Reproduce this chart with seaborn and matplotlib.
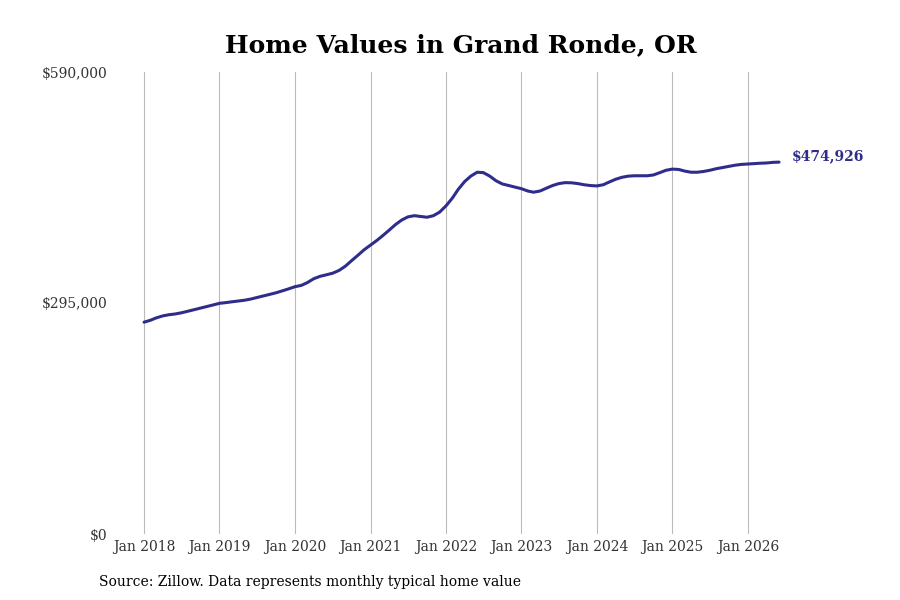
import pandas as pd
import matplotlib.pyplot as plt
import seaborn as sns

# ========== DATA ==========
months = pd.date_range("2018-01-01", "2026-06-01", freq="MS")
values = [
    # 2018
    270500, 273000, 276000, 278500, 280000, 281000, 282500, 284500, 286500, 288500, 290500, 292500,
    # 2019
    294600, 295500, 296500, 297500, 298500, 300000, 302000, 304000, 306000, 308000, 310500, 313000,
    # 2020
    315800, 317500, 321000, 326000, 329000, 331000, 333000, 336500, 342000, 349000, 356000, 363000,
    # 2021
    369000, 375000, 381000, 388000, 395000, 401000, 405000, 406500, 405500, 404500, 406500, 411000,
    # 2022
    419000, 429000, 440000, 450000, 457000, 462000, 461500, 457000, 451000, 447000, 445000, 443000,
    # 2023
    441000, 438000, 436500, 438000, 441500, 445000, 447500, 448700, 448500, 447500, 446000, 445000,
    # 2024
    444500, 446000, 449500, 453000, 455500, 457000, 457500, 457500, 457500, 458500, 461500, 464500,
    # 2025
    466000, 465500, 463500, 462000, 462000, 463000, 464500, 466500, 468000, 469500, 471000, 472000,
    # 2026
    472500, 473000, 473500, 473800, 474600, 474926,
]
ytick_vals = [0, 295000, 590000]
ytick_labels = ["$0", "$295,000", "$590,000"]
xtick_years = list(range(2018, 2027))

df = pd.DataFrame({"date": months, "value": values})

# ========== STYLE ==========
sns.set_style("white")
plt.rcParams["font.family"] = ["DejaVu Serif"]
LINE = "#2e2d8c"

fig = plt.figure(figsize=(9, 6), dpi=100)
ax = fig.add_axes([0.13, 0.11, 0.74, 0.77])

sns.lineplot(data=df, x="date", y="value", ax=ax, color=LINE, linewidth=2.2)

ax.set_ylim(0, 590000)
ax.set_yticks(ytick_vals)
ax.set_yticklabels(ytick_labels, fontsize=10, color="#333333")
ax.set_xlim(pd.Timestamp("2017-08-23"), pd.Timestamp("2026-06-20"))
ax.set_xticks([pd.Timestamp(f"{y}-01-01") for y in xtick_years])
ax.set_xticklabels([f"Jan {y}" for y in xtick_years], fontsize=10, color="#333333")
ax.tick_params(axis="both", length=0, pad=4)
ax.tick_params(axis="y", pad=7)
ax.set_xlabel("")
ax.set_ylabel("")
ax.grid(axis="x", color="#bbbbbb", linewidth=0.8)
ax.grid(axis="y", visible=False)
for s in ax.spines.values():
    s.set_visible(False)

last = df.iloc[-1]
ax.annotate(f"${last['value']:,.0f}", xy=(last["date"], last["value"]),
            xytext=(9, 4), textcoords="offset points", fontsize=10,
            fontweight="bold", color=LINE, va="center", ha="left",
            annotation_clip=False)

fig.text(0.512, 0.925, "Home Values in Grand Ronde, OR", ha="center", va="center",
         fontsize=18, fontweight="bold", color="black")
fig.text(0.11, 0.03, "Source: Zillow. Data represents monthly typical home value",
         ha="left", va="center", fontsize=10, color="black")

fig.savefig("out.png", dpi=100)
